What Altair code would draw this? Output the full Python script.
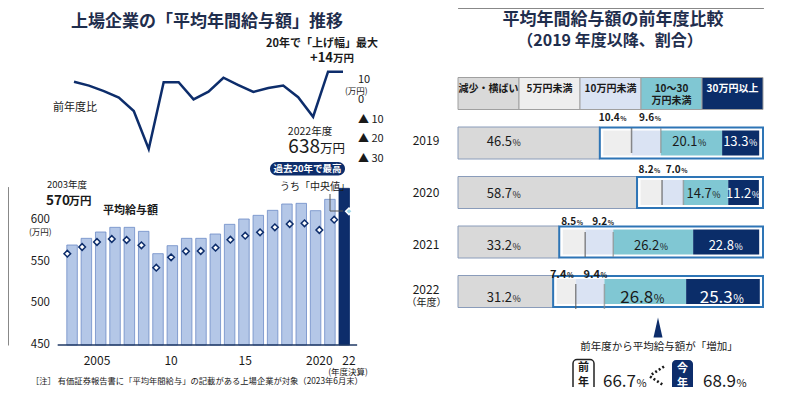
import altair as alt
import pandas as pd

# ---------------- data ----------------
years = list(range(2003, 2023))
avg_salary = [570, 578, 585.6, 591.2, 591.2, 586.4, 559.6, 569.2, 578, 578,
              583.2, 594.8, 601.2, 605.6, 611.6, 619.2, 620, 611.2, 624.8, 638]
median_salary = [559.6, 567.6, 573.6, 577.2, 576, 569.6, 542.8, 555.2, 562.4, 562.8,
                 566.8, 576.4, 581.2, 585.2, 591.2, 595.2, 596, 588, 600.4, 610.4]
change_years = list(range(2004, 2023))
yoy_change = [9.3, 7.3, 4.5, 1.2, -5.6, -24.9, 9.0, 9.0, 0.3, 4.2,
              11.3, 7.6, 4.1, 6.1, 7.3, 1.4, -8.5, 14.4, 14.4]
bar_tick_years = [2005, 2010, 2015, 2020, 2022]
bar_tick_labels = ["2005", "10", "15", "2020", "22"]
salary_ticks = [450, 500, 550, 600]
change_ticks = [10, 0, -10, -20, -30]
change_tick_labels = ["10", "0", "▲ 10", "▲ 20", "▲ 30"]

fiscal_years = ["2019", "2020", "2021", "2022"]
categories = ["減少・横ばい", "5万円未満", "10万円未満", "10～30万円未満", "30万円以上"]
header_labels = ["減少・横ばい", "5万円未満", "10万円未満", "10～30\n万円未満", "30万円以上"]
share_decrease = [46.5, 58.7, 33.2, 31.2]
share_lt5 = [10.4, 8.2, 8.5, 7.4]
share_lt10 = [9.6, 7.0, 9.2, 9.4]
share_10_30 = [20.1, 14.7, 26.2, 26.8]
share_ge30 = [13.3, 11.2, 22.8, 25.3]
increased_prev = 66.7
increased_now = 68.9

# ---------------- frames ----------------
salary_df = pd.DataFrame({"year": years, "avg": avg_salary, "median": median_salary})
change_df = pd.DataFrame({"year": change_years, "chg": yoy_change})
xt_df = pd.DataFrame({"year": bar_tick_years, "label": bar_tick_labels})
yt_df = pd.DataFrame({"v": salary_ticks})
lt_df = pd.DataFrame({"v": change_ticks, "label": change_tick_labels})

series = [share_decrease, share_lt5, share_lt10, share_10_30, share_ge30]
rows = []
for r, fy in enumerate(fiscal_years):
    cum = 0.0
    for c, arr in enumerate(series):
        v = arr[r]
        rows.append(dict(row=r, fy=fy, cat=c, name=categories[c], v=v,
                         start=cum, end=cum + v, mid=cum + v / 2))
        cum += v
share_df = pd.DataFrame(rows)
box_df = pd.DataFrame({"row": list(range(4)), "start": share_decrease, "end": [100.0] * 4})
header_df = pd.DataFrame({"cat": list(range(5)), "name": categories, "label": header_labels,
                          "start": [i * 20 for i in range(5)],
                          "end": [(i + 1) * 20 for i in range(5)],
                          "mid": [i * 20 + 10 for i in range(5)]})
fy_df = pd.DataFrame({"row": list(range(4)), "fy": fiscal_years})

# ---------------- styling ----------------
FONT = "Noto Sans CJK JP"
NAVY = "#0d2d6b"
DARK = "#1a1a1a"
TITLE = "#1f2e4d"
SEG_COLORS = ["#d9d9d9", "#eeeeee", "#dae3f3", "#80c7d3", "#0b2d69"]


def P(v):
    return v - 8


XB = alt.Scale(domain=[2002.5, 2022.5], range=[P(59.9), P(356.4)], nice=False, zero=False)
YB = alt.Scale(domain=[450, 640], range=[P(345), P(345 - 190 * 125 / 150)], nice=False, zero=False)
XL = alt.Scale(domain=[2004, 2022], range=[P(74), P(343)], nice=False, zero=False)
YL = alt.Scale(domain=[-30, 15], range=[P(100 + 30 * 1.97), P(100 - 15 * 1.97)], nice=False, zero=False)
XR = alt.Scale(domain=[0, 100], range=[P(458), P(763)], nice=False, zero=False)
YR = alt.Scale(domain=[-1, 3], range=[P(88.5), P(296.5)], nice=False, zero=False)
SEG = alt.Scale(domain=categories, range=SEG_COLORS)

layers = []


def txt(s, x, y, size=11, weight="normal", color=DARK, align="center", baseline="middle"):
    return alt.Chart().mark_text(text=s, fontSize=size, fontWeight=weight, color=color,
                                 align=align, baseline=baseline, font=FONT).encode(
        x=alt.value(P(x)), y=alt.value(P(y)))


def rule(x1, y1, x2, y2, color=DARK, width=1, dash=None):
    kw = dict(color=color, strokeWidth=width)
    if dash:
        kw["strokeDash"] = dash
    return alt.Chart().mark_rule(**kw).encode(
        x=alt.value(P(x1)), y=alt.value(P(y1)), x2=alt.value(P(x2)), y2=alt.value(P(y2)))


def rect(x1, y1, x2, y2, fill, stroke=None, sw=0, radius=0):
    kw = dict(fill=fill, cornerRadius=radius, strokeWidth=sw)
    if stroke:
        kw["stroke"] = stroke
    return alt.Chart().mark_rect(**kw).encode(
        x=alt.value(P(x1)), y=alt.value(P(y1)), x2=alt.value(P(x2)), y2=alt.value(P(y2)))


# ---------------- left: bars + medians ----------------
is22 = "datum.year == 2022"
layers.append(alt.Chart(salary_df).mark_bar(size=10.5, strokeWidth=0.8).encode(
    x=alt.X("year:Q", scale=XB, axis=None),
    y=alt.Y("avg:Q", scale=YB, axis=None),
    y2=alt.Y2Datum(450),
    fill=alt.condition(is22, alt.value(NAVY), alt.value("#b4c7e7")),
    stroke=alt.condition(is22, alt.value(NAVY), alt.value("#6d8cc7")),
))
layers.append(alt.Chart().mark_rule(color="#1f3864", strokeWidth=1.5).encode(
    x=alt.XDatum(2002.35, scale=XB), x2=alt.X2Datum(2022.55),
    y=alt.YDatum(450, scale=YB)))
layers.append(alt.Chart(salary_df).mark_point(shape="diamond", filled=True, size=44,
                                              strokeWidth=1.5, opacity=1).encode(
    x=alt.X("year:Q", scale=XB, axis=None),
    y=alt.Y("median:Q", scale=YB, axis=None),
    fill=alt.condition(is22, alt.value("#9fd6e8"), alt.value("white")),
    stroke=alt.condition(is22, alt.value("white"), alt.value(NAVY)),
))
# line
layers.append(alt.Chart(change_df).mark_line(color=NAVY, strokeWidth=2.5).encode(
    x=alt.X("year:Q", scale=XL, axis=None),
    y=alt.Y("chg:Q", scale=YL, axis=None)))

# tick labels
layers.append(alt.Chart(xt_df).mark_text(fontSize=12, font=FONT, color=DARK).encode(
    x=alt.X("year:Q", scale=XB, axis=None), y=alt.value(P(361)), text="label:N"))
layers.append(alt.Chart(yt_df).mark_text(fontSize=11.5, font=FONT, color=DARK, align="right").encode(
    x=alt.value(P(50)), y=alt.Y("v:Q", scale=YB, axis=None), text="v:Q"))
layers.append(alt.Chart(lt_df).mark_text(fontSize=11, font=FONT, color=DARK, align="left").encode(
    x=alt.value(P(358)), y=alt.Y("v:Q", scale=YL, axis=None), text="label:N"))

# left annotations
layers += [
    txt("上場企業の「平均年間給与額」推移", 207, 22, size=17, weight="bold", color=TITLE),
    txt("20年で「上げ幅」最大", 322, 44, size=11, weight="bold"),
    txt("+14", 333, 62, size=13, weight="bold", align="right", baseline="alphabetic"),
    txt("万円", 333, 62, size=10.5, weight="bold", align="left", baseline="alphabetic"),
    txt("前年度比", 75, 108, size=11),
    txt("(万円)", 345, 91, size=8.5, align="left"),
    txt("2022年度", 310, 132, size=10.5),
    txt("638", 320, 153, size=19, align="right", baseline="alphabetic"),
    txt("万円", 320, 153, size=12.5, align="left", baseline="alphabetic"),
    rect(270, 162, 345, 175.5, NAVY, radius=7),
    txt("過去20年で最高", 307.5, 169, size=9.5, weight="bold", color="white"),
    txt("うち「中央値」", 315, 187, size=10),
    rule(330, 194, 330, 211, color="#555"),
    rule(330, 211, 343, 211, color="#555"),
    txt("2003年度", 47, 185, size=9.5, align="left"),
    txt("570", 46, 205, size=13.5, weight="bold", align="left", baseline="alphabetic"),
    txt("万円", 68.5, 205, size=11.5, weight="bold", align="left", baseline="alphabetic"),
    txt("平均給与額", 103, 211, size=11, weight="bold", align="left"),
    txt("(万円)", 29, 232, size=8.5, align="left"),
    txt("(年度決算)", 348, 372, size=8.5),
    txt("［注］ 有価証券報告書に「平均年間給与」の記載がある上場企業が対象（2023年6月末）",
        31, 382, size=8.3, align="left"),
]

# ---------------- right: stacked shares ----------------
layers += [
    txt("平均年間給与額の前年度比較", 613, 20, size=17, weight="bold", color=TITLE),
    txt("（2019 年度以降、割合）", 610, 41, size=16, weight="bold", color=TITLE),
]

# header legend boxes
layers.append(alt.Chart(header_df).mark_bar(size=32, orient="horizontal", stroke="#a0a0a0",
                                            strokeWidth=1).encode(
    x=alt.X("start:Q", scale=XR, axis=None), x2="end:Q",
    y=alt.YDatum(-1, scale=YR),
    color=alt.Color("name:N", scale=SEG, legend=None)))
layers.append(alt.Chart(header_df).mark_text(fontSize=10, fontWeight="bold", font=FONT,
                                             lineBreak="\n", lineHeight=12).encode(
    x=alt.X("mid:Q", scale=XR, axis=None),
    y=alt.YDatum(-1, scale=YR),
    text="label:N",
    color=alt.condition("datum.cat == 4", alt.value("white"), alt.value(DARK))))

# decrease bars
layers.append(alt.Chart(share_df).transform_filter("datum.cat == 0").mark_bar(
    size=32, orient="horizontal", fill="#d9d9d9", stroke="#8a9cba", strokeWidth=1).encode(
    x=alt.X("start:Q", scale=XR, axis=None), x2="end:Q",
    y=alt.Y("row:Q", scale=YR, axis=None)))
# increase box
layers.append(alt.Chart(box_df).mark_bar(size=31, orient="horizontal", fill="white",
                                         stroke="#2e75b6", strokeWidth=2).encode(
    x=alt.X("start:Q", scale=XR, axis=None), x2="end:Q",
    y=alt.Y("row:Q", scale=YR, axis=None)))


def seg_layer(flt, **kw):
    return alt.Chart(share_df).transform_filter(flt).mark_bar(
        size=25, orient="horizontal", **kw).encode(
        x=alt.X("start:Q", scale=XR, axis=None), x2="end:Q",
        y=alt.Y("row:Q", scale=YR, axis=None),
        color=alt.Color("name:N", scale=SEG, legend=None))


layers.append(seg_layer("datum.cat == 1", xOffset=3.5))
layers.append(seg_layer("datum.cat == 2 || datum.cat == 3"))
layers.append(seg_layer("datum.cat == 4", x2Offset=-3.5))
layers.append(alt.Chart(share_df).transform_filter("datum.cat == 1 || datum.cat == 2").mark_tick(
    orient="vertical", size=25, thickness=1.5).encode(
    x=alt.X("end:Q", scale=XR, axis=None),
    y=alt.Y("row:Q", scale=YR, axis=None),
    color=alt.condition("datum.cat == 1", alt.value("#5a5a5a"), alt.value("#8c8c8c"))))


def num_layers(flt, xfield, size, psize, dx, dy, weight="normal", xdatum=None):
    base = alt.Chart(share_df).transform_filter(flt)
    xenc = alt.XDatum(xdatum, scale=XR) if xdatum is not None else alt.X(xfield, scale=XR, axis=None)
    col = alt.condition("datum.cat == 4", alt.value("white"), alt.value(DARK))
    n = base.mark_text(fontSize=size, fontWeight=weight, font=FONT, align="right",
                       baseline="alphabetic", dx=dx, dy=dy).encode(
        x=xenc, y=alt.Y("row:Q", scale=YR, axis=None),
        text=alt.Text("v:Q", format=".1f"), color=col)
    p = base.mark_text(fontSize=psize, fontWeight=weight, font=FONT, align="left",
                       baseline="alphabetic", dx=dx + 0.5, dy=dy).encode(
        x=xenc, y=alt.Y("row:Q", scale=YR, axis=None),
        text=alt.value("%"), color=col)
    return [n, p]


# decrease labels (fixed column)
layers += num_layers("datum.cat == 0", "mid:Q", 13, 9, 0, 5, xdatum=17.7)
# inside labels rows 2019-2021
layers += num_layers("(datum.cat == 3 || datum.cat == 4) && datum.row < 3", "mid:Q", 13, 9, 6, 5)
# inside labels 2022 (bigger)
layers += num_layers("(datum.cat == 3 || datum.cat == 4) && datum.row == 3", "mid:Q", 17, 11.5, 8, 6.5)
# above labels
layers += num_layers("datum.cat == 1 && datum.row < 3", "mid:Q", 10, 6.5, 4, -20, weight="bold")
layers += num_layers("datum.cat == 2 && datum.row < 3", "mid:Q", 10, 6.5, 8, -20, weight="bold")
layers += num_layers("datum.cat == 1 && datum.row == 3", "mid:Q", 11, 7, 2, -19, weight="bold")
layers += num_layers("datum.cat == 2 && datum.row == 3", "mid:Q", 11, 7, 10, -19, weight="bold")

# fiscal year labels
layers.append(alt.Chart(fy_df).transform_filter("datum.row < 3").mark_text(
    fontSize=12, font=FONT, color=DARK).encode(
    x=alt.value(P(426)), y=alt.Y("row:Q", scale=YR, axis=None), text="fy:N"))
layers.append(alt.Chart(fy_df).transform_filter("datum.row == 3").mark_text(
    fontSize=12, font=FONT, color=DARK, dy=-6.5).encode(
    x=alt.value(P(426)), y=alt.Y("row:Q", scale=YR, axis=None), text="fy:N"))
layers.append(txt("（年度）", 426.5, 302.5, size=10))

# bottom annotation
layers.append(alt.Chart().mark_point(shape="M0,-1L0.45,1L-0.45,1Z", size=400, filled=True,
                                     fill=NAVY, strokeWidth=0, opacity=1).encode(
    x=alt.value(P(658)), y=alt.value(P(327.5))))
layers += [
    txt("前年度から平均給与額が「増加」", 659, 347, size=10.5),
    rect(573, 359.5, 594, 392, "white", stroke="#222", sw=1.5, radius=4),
    txt("前", 583.5, 368, size=11, weight="bold"),
    txt("年", 583.5, 383, size=11, weight="bold"),
    txt(f"{increased_prev:.1f}", 636, 386.5, size=17, align="right", baseline="alphabetic"),
    txt("%", 636.5, 386.5, size=11, align="left", baseline="alphabetic"),
    rule(664, 366.5, 650, 375.5, width=2.6, dash=[2, 2.2]),
    rule(650, 376.5, 664, 385.5, width=2.6, dash=[2, 2.2]),
    rect(672, 360, 693, 393, NAVY, radius=4),
    txt("今", 682.5, 369, size=11, weight="bold", color="white"),
    txt("年", 682.5, 384, size=11, weight="bold", color="white"),
    txt(f"{increased_now:.1f}", 736, 386.5, size=17, align="right", baseline="alphabetic"),
    txt("%", 736.5, 386.5, size=11, align="left", baseline="alphabetic"),
]

dummy = pd.DataFrame({"d": [0]})
chart = alt.layer(*layers, data=dummy).resolve_scale(
    x="independent", y="independent", color="independent",
    fill="independent", stroke="independent"
).properties(width=784, height=379, padding=0, autosize="none",
             background="white").configure_view(stroke=None)

chart.save("out.html", embed_options={"renderer": "svg", "actions": False})
